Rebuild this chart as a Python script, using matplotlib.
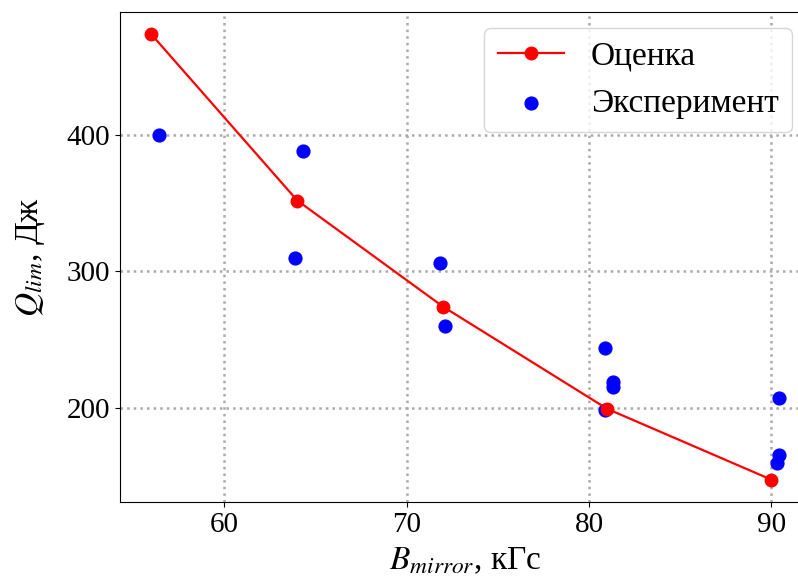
import matplotlib
matplotlib.use('Agg')
import matplotlib.pyplot as plt

plt.rcParams['font.family'] = ['Liberation Serif', 'DejaVu Serif']
plt.rcParams['mathtext.fontset'] = 'stix'

# Estimated values (Оценка)
b_est = [56.0, 64.0, 72.0, 81.0, 90.0]
q_est = [474, 352, 274, 199, 147]

# Experimental points (Эксперимент)
b_exp = [56.4, 64.3, 63.9, 71.8, 72.1, 80.9, 81.3, 81.3, 80.9, 90.4, 90.4, 90.3]
q_exp = [400, 388, 310, 306, 260, 244, 219, 215, 198, 207, 165, 159]

fig = plt.figure(figsize=(7.98, 5.86), dpi=100)
ax = fig.add_axes([0.1504, 0.1433, 0.8647, 0.8362])

ax.plot(b_est, q_est, color='red', marker='o', markersize=9, linewidth=1.6, label='Оценка', zorder=3)
ax.scatter(b_exp, q_exp, color='blue', s=85, label='Эксперимент', zorder=2)

ax.set_xlim(54.28, 92.12)
ax.set_ylim(130.6, 490.4)
ax.set_xticks([60, 70, 80, 90])
ax.set_yticks([200, 300, 400])
ax.tick_params(labelsize=21)
ax.grid(True, linestyle=':', linewidth=1.8, color='#aaaaaa')

ax.set_xlabel('$B_{mirror}$, кГс', fontsize=24, labelpad=6)
ax.set_ylabel('$Q_{lim}$, Дж', fontsize=24, labelpad=14)

ax.legend(loc='upper right', bbox_to_anchor=(792 / 798, 1 - 28 / 586),
          bbox_transform=fig.transFigure, borderaxespad=0, fontsize=24)

fig.savefig('out.png', dpi=100)
